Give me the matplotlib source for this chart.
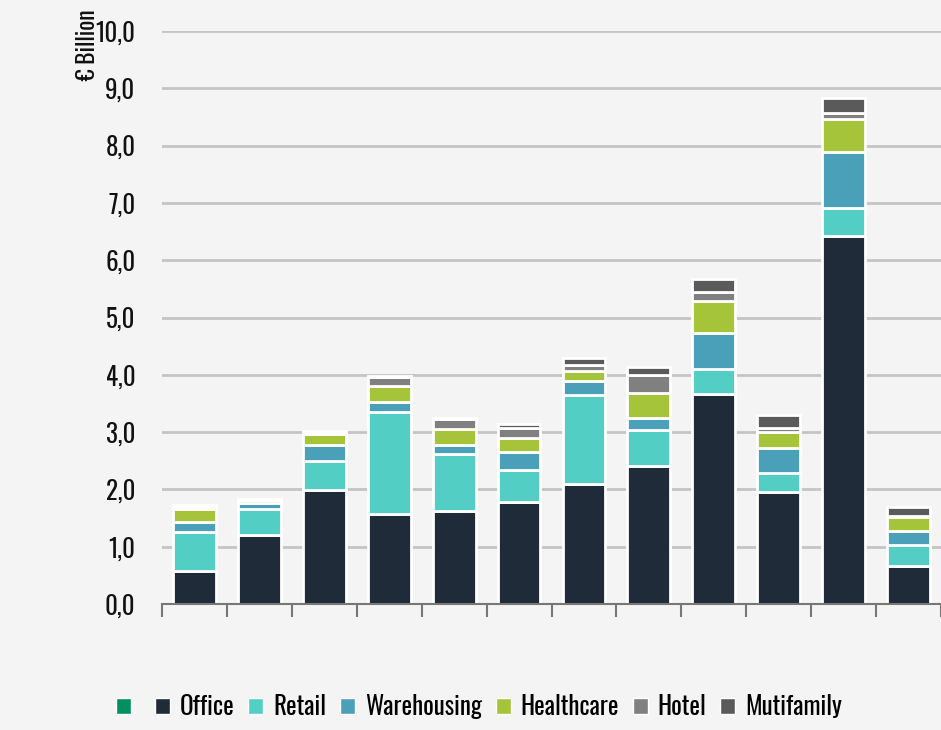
import matplotlib.pyplot as plt
import numpy as np
from matplotlib.patches import Patch

# values in EUR billion, one per bar (12 bars, no category labels shown)
office = [0.58, 1.21, 1.99, 1.57, 1.62, 1.78, 2.09, 2.40, 3.66, 1.95, 6.43, 0.67]
retail = [0.68, 0.44, 0.51, 1.78, 1.00, 0.56, 1.55, 0.64, 0.44, 0.34, 0.48, 0.36]
warehousing = [0.17, 0.12, 0.27, 0.18, 0.16, 0.32, 0.25, 0.20, 0.63, 0.44, 0.98, 0.25]
healthcare = [0.22, 0.04, 0.20, 0.27, 0.27, 0.24, 0.17, 0.45, 0.55, 0.27, 0.57, 0.23]
hotel = [0.05, 0.01, 0.04, 0.17, 0.18, 0.17, 0.11, 0.31, 0.17, 0.08, 0.11, 0.02]
multifamily = [0.02, 0.01, 0.01, 0.01, 0.02, 0.07, 0.12, 0.13, 0.22, 0.22, 0.26, 0.17]

series = [office, retail, warehousing, healthcare, hotel, multifamily]
names = ['Office', 'Retail', 'Warehousing', 'Healthcare', 'Hotel', 'Mutifamily']
colors = ['#1f2b38', '#52cec5', '#4aa0b8', '#a6c43a', '#808080', '#5a5a5a']

plt.rcParams['font.family'] = ['Oswald', 'DejaVu Sans']

fig = plt.figure(figsize=(9.41, 7.30), dpi=100, facecolor='#f4f4f4')
ax = fig.add_axes([162 / 941, 126 / 730, 779 / 941, 573 / 730])
ax.set_facecolor('#f4f4f4')

x = np.arange(len(office))
bottom = np.zeros(len(office))
for vals, name, col in zip(series, names, colors):
    ax.bar(x, vals, width=0.66, bottom=bottom, color=col, edgecolor='white',
           linewidth=2, zorder=3, label=name)
    bottom += np.array(vals)

ax.set_xlim(-0.5, len(office) - 0.5)
ax.set_ylim(0, 10)
ax.set_yticks(np.arange(0, 11, 1))
ax.set_yticklabels([f'{v:.1f}'.replace('.', ',') for v in np.arange(0, 11, 1)],
                   fontsize=18, color='#111111')
ax.tick_params(axis='y', length=0, pad=19)
ax.set_xticks(np.arange(-0.5, len(office), 1))
ax.set_xticklabels([])
ax.tick_params(axis='x', length=9, width=1.5, color='#777777', direction='out')
ax.yaxis.grid(True, color='#c4c4c4', linewidth=2)
ax.set_axisbelow(True)
for s in ['top', 'right', 'left']:
    ax.spines[s].set_visible(False)
ax.spines['bottom'].set_color('#777777')
ax.spines['bottom'].set_linewidth(1.5)
ax.spines['bottom'].set_zorder(4)

fig.text(88 / 941, 1 - 45 / 730, '€ Billion', rotation=90, fontsize=17,
         ha='center', va='center', color='#111111')

handles = [Patch(facecolor='#009060', edgecolor='white')]
labels = ['']
for name, col in zip(names, colors):
    handles.append(Patch(facecolor=col, edgecolor='white'))
    labels.append(name)
fig.legend(handles, labels, loc='center', bbox_to_anchor=(479 / 941, 1 - 707 / 730),
           ncol=7, frameon=False, fontsize=18, handlelength=0.6, handleheight=0.6,
           handletextpad=0.4, columnspacing=0.55)

fig.savefig('out.png', dpi=100, facecolor=fig.get_facecolor())
